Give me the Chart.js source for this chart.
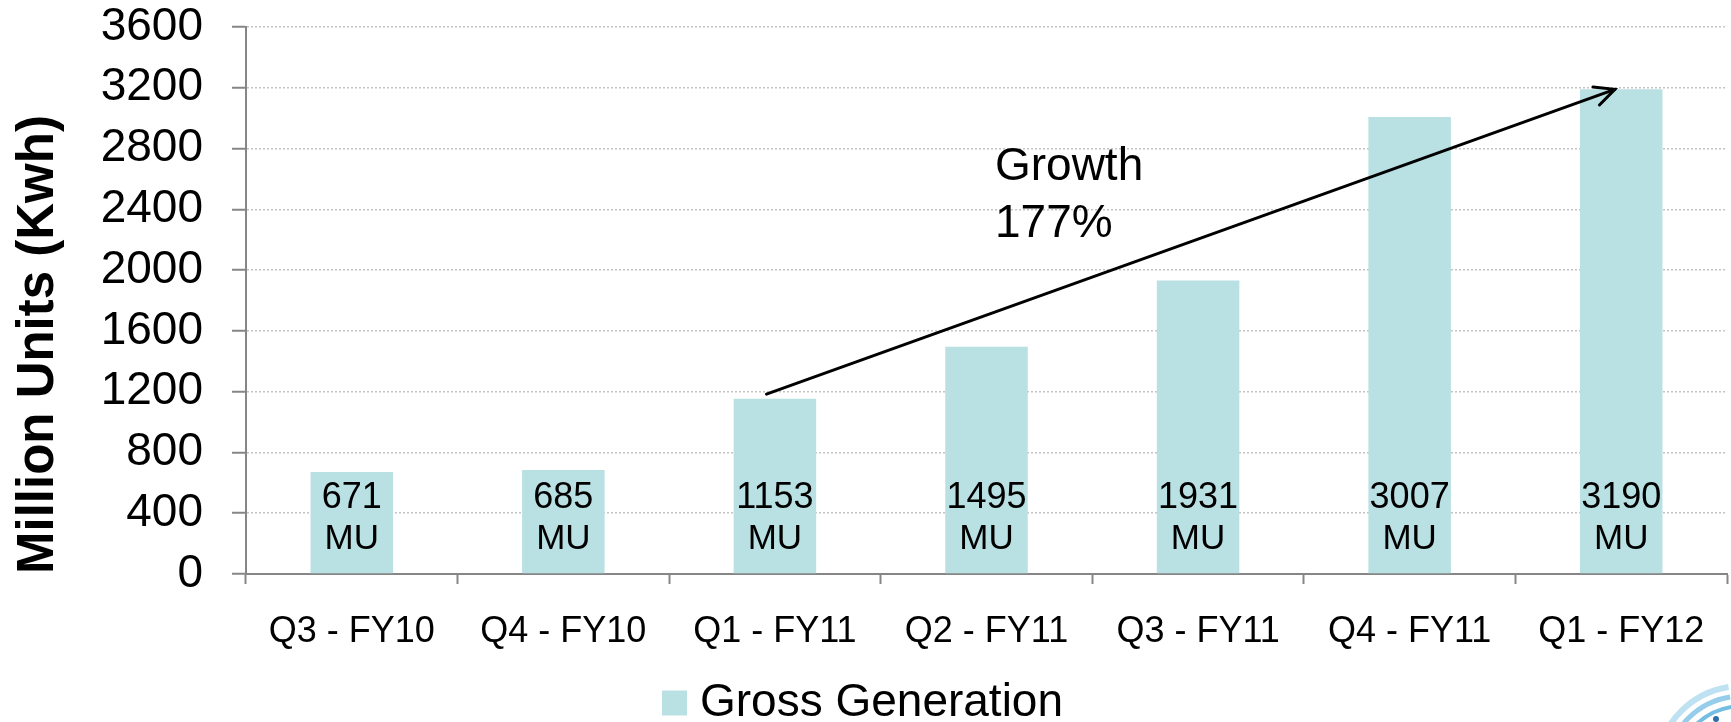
<!DOCTYPE html>
<html>
<head>
<meta charset="utf-8">
<script src="https://cdn.jsdelivr.net/npm/chart.js@4.4.1/dist/chart.umd.min.js"></script>
<style>
  html, body { margin: 0; padding: 0; background: #ffffff; }
  #wrap { width: 1731px; height: 722px; position: relative; }
</style>
</head>
<body>
<div id="wrap"><canvas id="c" width="1731" height="722"></canvas></div>
<script>
// ---- data ----
const categories = ['Q3 - FY10', 'Q4 - FY10', 'Q1 - FY11', 'Q2 - FY11', 'Q3 - FY11', 'Q4 - FY11', 'Q1 - FY12'];
const grossGeneration = [671, 685, 1153, 1495, 1931, 3007, 3190];
const seriesLabel = 'Gross Generation';
const valueUnit = 'MU';
const yAxisTitle = 'Million Units (Kwh)';
const yMin = 0;
const yMax = 3600;
const yStep = 400;
// annotation: growth arrow, [category index, value]
const arrowFrom = [1.96, 1184];
const arrowTo = [5.97, 3190];
const growthLines = ['Growth', '177%'];
const growthTextX = 3.04;
const growthTextY = [2593, 2218];

const FONT = "'Liberation Sans', Arial, Helvetica, sans-serif";
const BAR_COLOR = '#B9E0E3';
const AXIS_COLOR = '#868686';

const valueLabels = {
  id: 'valueLabels',
  afterDatasetsDraw(chart) {
    const ctx = chart.ctx;
    const meta = chart.getDatasetMeta(0);
    const data = chart.data.datasets[0].data;
    ctx.save();
    ctx.fillStyle = '#000';
    ctx.textAlign = 'center';
    ctx.textBaseline = 'middle';
    meta.data.forEach((bar, i) => {
      ctx.font = '36px ' + FONT;
      ctx.fillText(String(data[i]), bar.x, bar.base - 75);
      ctx.font = '35px ' + FONT;
      ctx.fillText(valueUnit, bar.x, bar.base - 34);
    });
    ctx.restore();
  }
};

const growthAnnotation = {
  id: 'growthAnnotation',
  afterDatasetsDraw(chart) {
    const ctx = chart.ctx;
    const xs = chart.scales.x, ys = chart.scales.y;
    const x1 = xs.getPixelForValue(arrowFrom[0]), y1 = ys.getPixelForValue(arrowFrom[1]);
    const x2 = xs.getPixelForValue(arrowTo[0]), y2 = ys.getPixelForValue(arrowTo[1]);
    ctx.save();
    ctx.strokeStyle = '#000';
    ctx.lineWidth = 3;
    ctx.lineCap = 'round';
    ctx.lineJoin = 'miter';
    ctx.beginPath();
    ctx.moveTo(x1, y1);
    ctx.lineTo(x2, y2);
    ctx.stroke();
    const ang = Math.atan2(y2 - y1, x2 - x1);
    const hl = 22, ha = 0.45;
    ctx.beginPath();
    ctx.moveTo(x2 - hl * Math.cos(ang - ha), y2 - hl * Math.sin(ang - ha));
    ctx.lineTo(x2, y2);
    ctx.lineTo(x2 - hl * Math.cos(ang + ha), y2 - hl * Math.sin(ang + ha));
    ctx.stroke();
    ctx.fillStyle = '#000';
    ctx.font = '46px ' + FONT;
    ctx.textAlign = 'left';
    ctx.textBaseline = 'alphabetic';
    const tx = xs.getPixelForValue(growthTextX);
    growthLines.forEach((t, i) => ctx.fillText(t, tx, ys.getPixelForValue(growthTextY[i])));
    ctx.restore();
  }
};

const customLegend = {
  id: 'customLegend',
  afterDraw(chart) {
    const ctx = chart.ctx;
    const ds = chart.data.datasets[0];
    ctx.save();
    ctx.font = '46px ' + FONT;
    const tw = ctx.measureText(ds.label).width;
    const box = 25, gap = 13;
    const total = box + gap + tw;
    const cx = chart.width / 2 - 3;
    const x0 = cx - total / 2;
    const cy = 703;
    ctx.fillStyle = ds.backgroundColor;
    ctx.fillRect(x0, cy - box / 2, box, box);
    ctx.fillStyle = '#000';
    ctx.textAlign = 'left';
    ctx.textBaseline = 'middle';
    ctx.fillText(ds.label, x0 + box + gap, cy);
    ctx.restore();
  }
};

const cornerLogo = {
  id: 'cornerLogo',
  afterDraw(chart) {
    const ctx = chart.ctx;
    ctx.save();
    const cx = 1742, cy = 772;
    const rings = [[86, '#bfe2f3', 6], [76, '#95cdea', 5], [66, '#74bde3', 4]];
    rings.forEach(([r, c, w]) => {
      ctx.strokeStyle = c; ctx.lineWidth = w;
      ctx.beginPath();
      ctx.arc(cx, cy, r, Math.PI * 1.05, Math.PI * 1.45);
      ctx.stroke();
    });
    ctx.fillStyle = '#2f6fa8';
    ctx.beginPath(); ctx.arc(1716, 719, 3, 0, Math.PI * 2); ctx.fill();
    ctx.restore();
  }
};

new Chart(document.getElementById('c'), {
  type: 'bar',
  data: {
    labels: categories,
    datasets: [{
      label: seriesLabel,
      data: grossGeneration,
      backgroundColor: BAR_COLOR,
      borderWidth: 0,
      barPercentage: 0.39,
      categoryPercentage: 1.0
    }]
  },
  options: {
    responsive: false,
    animation: false,
    events: [],
    devicePixelRatio: 1,
    layout: { padding: { top: 0, right: 4, bottom: 0, left: 0 } },
    plugins: {
      legend: { display: false },
      tooltip: { enabled: false },
      title: { display: false }
    },
    scales: {
      x: {
        offset: true,
        grid: {
          display: true,
          offset: true,
          drawOnChartArea: false,
          drawTicks: true,
          tickLength: 10,
          tickColor: AXIS_COLOR,
          tickWidth: 2
        },
        border: { display: true, color: AXIS_COLOR, width: 2 },
        ticks: {
          color: '#000',
          font: { family: FONT, size: 36 },
          padding: 26,
          maxRotation: 0,
          autoSkip: false
        },
        afterFit(scale) { scale.height = 148; }
      },
      y: {
        min: yMin,
        max: yMax,
        grid: {
          color: '#c4c4c4',
          lineWidth: 1.5,
          drawTicks: true,
          tickLength: 14,
          tickColor: AXIS_COLOR,
          tickWidth: 2,
          tickBorderDash: []
        },
        border: { display: true, color: AXIS_COLOR, width: 2, dash: [2, 2] },
        ticks: {
          stepSize: yStep,
          autoSkip: false,
          color: '#000',
          font: { family: FONT, size: 46 },
          padding: 29,
          callback: (v) => String(v)
        },
        title: {
          display: true,
          text: yAxisTitle,
          color: '#000',
          align: 'start',
          font: { family: FONT, size: 51, weight: 'bold' },
          padding: { top: 8, bottom: 0 }
        },
        afterFit(scale) {
          scale.width = 246;
          scale.paddingTop = 27;
          scale.paddingBottom = 0;
        }
      }
    }
  },
  plugins: [valueLabels, growthAnnotation, customLegend, cornerLogo]
});
</script>
</body>
</html>
